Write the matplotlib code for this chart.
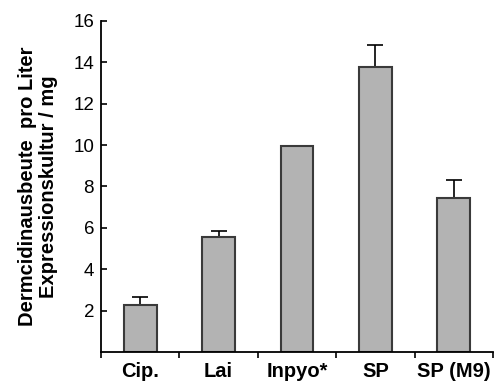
import matplotlib
matplotlib.use("Agg")
import matplotlib.pyplot as plt
import numpy as np

categories = ["Cip.", "Lai", "Inpyo*", "SP", "SP (M9)"]
values = [2.25, 5.55, 9.95, 13.8, 7.45]
errors = [0.4, 0.3, 0.0, 1.05, 0.85]

plt.rcParams['font.family'] = ['Liberation Sans', 'DejaVu Sans']

fig = plt.figure(figsize=(4.96, 3.81), dpi=100)
ax = fig.add_axes([0.2036, 0.0761, 0.7904, 0.8688])

x = np.arange(len(categories))
ax.bar(x, values, width=0.42, color="#b3b3b3", edgecolor="#3a3a3a", linewidth=1.5, zorder=2)
err_x = [xi for xi, e in zip(x, errors) if e > 0]
err_y = [v for v, e in zip(values, errors) if e > 0]
err_e = [e for e in errors if e > 0]
ax.errorbar(err_x, err_y, yerr=[np.zeros(len(err_e)), err_e], fmt="none",
            ecolor="black", elinewidth=1.2, capsize=6, capthick=1.2, zorder=1)

ax.set_xlim(-0.5, len(categories) - 0.5)
ax.set_ylim(0, 16)
ax.set_yticks([2, 4, 6, 8, 10, 12, 14, 16])
ax.tick_params(axis="y", direction="in", length=4, width=1.2, labelsize=13.5, pad=5)

ax.set_xticks(x)
ax.set_xticklabels(categories, fontweight="bold", fontsize=14.5)
ax.set_xticks(np.arange(-0.5, len(categories)), minor=True)
ax.tick_params(axis="x", which="major", length=0, pad=7)
ax.tick_params(axis="x", which="minor", direction="out", length=4, width=1.2)

for side in ("top", "right"):
    ax.spines[side].set_visible(False)
for side in ("left", "bottom"):
    ax.spines[side].set_linewidth(1.3)

ax.set_ylabel("Dermcidinausbeute  pro Liter\nExpressionskultur / mg",
              fontweight="bold", fontsize=14.5, labelpad=11, linespacing=1.15)

fig.savefig("out.png", dpi=100)
